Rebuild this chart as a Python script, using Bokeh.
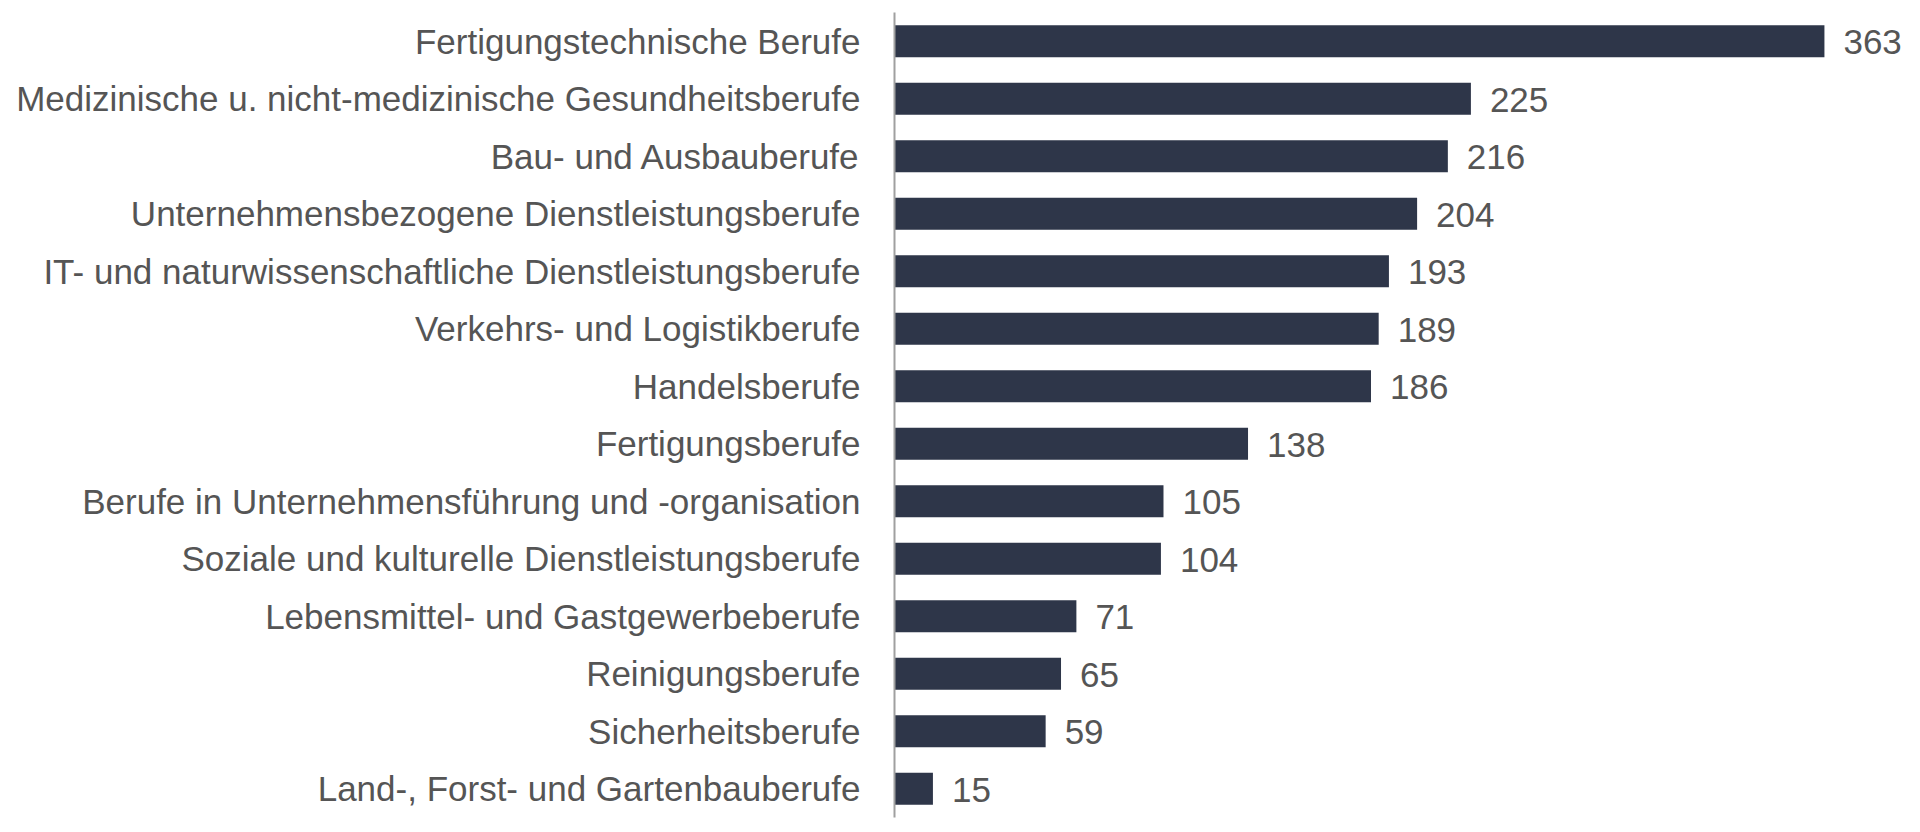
from bokeh.plotting import figure
from bokeh.models import ColumnDataSource, Range1d, FactorRange, LabelSet
from bokeh.core.properties import value
from bokeh.embed import file_html
from bokeh.resources import INLINE

categories = [
    "Fertigungstechnische Berufe",
    "Medizinische u. nicht-medizinische Gesundheitsberufe",
    "Bau- und Ausbauberufe",
    "Unternehmensbezogene Dienstleistungsberufe",
    "IT- und naturwissenschaftliche Dienstleistungsberufe",
    "Verkehrs- und Logistikberufe",
    "Handelsberufe",
    "Fertigungsberufe",
    "Berufe in Unternehmensführung und -organisation",
    "Soziale und kulturelle Dienstleistungsberufe",
    "Lebensmittel- und Gastgewerbeberufe",
    "Reinigungsberufe",
    "Sicherheitsberufe",
    "Land-, Forst- und Gartenbauberufe",
]
values = [363, 225, 216, 204, 193, 189, 186, 138, 105, 104, 71, 65, 59, 15]
labels = [str(v) for v in values]

source = ColumnDataSource(dict(cat=categories, val=values, lab=labels))

p = figure(
    width=1920, height=832,
    y_range=FactorRange(factors=list(reversed(categories)), range_padding=0),
    x_range=Range1d(0, 400.5),
    output_backend="svg", toolbar_location=None,
    min_border_left=894, min_border_right=0, min_border_top=12, min_border_bottom=15,
)

p.hbar(y="cat", right="val", left=0, height=0.56, source=source,
       fill_color="#2E3649", line_color=None)

p.add_layout(LabelSet(x="val", y="cat", text="lab", source=source,
                      x_offset=19, y_offset=-1, text_baseline="middle", text_align="left",
                      text_font_size="35px", text_color="#555555",
                      text_font=value("Liberation Sans")))

p.xaxis.visible = False
p.xgrid.visible = False
p.ygrid.visible = False
p.outline_line_color = None

ya = p.yaxis[0]
ya.major_tick_line_color = None
ya.minor_tick_line_color = None
ya.axis_line_color = "#A0A0A0"
ya.axis_line_width = 2
ya.major_label_text_font = "Liberation Sans"
ya.major_label_text_font_size = "35px"
ya.major_label_text_color = "#555555"
ya.major_label_standoff = 28

open("out.html", "w").write(file_html(p, INLINE))
